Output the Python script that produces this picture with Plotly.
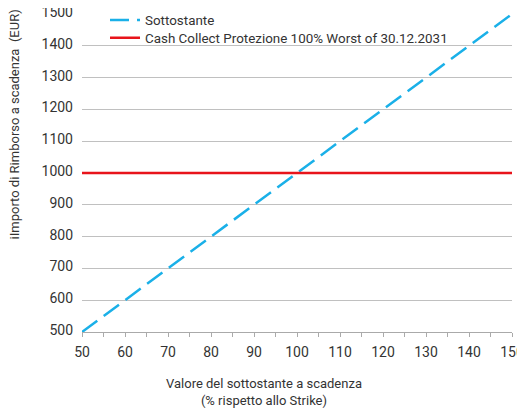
import plotly.graph_objects as go

x_vals = [50, 55, 60, 65, 70, 75, 80, 85, 90, 95, 100, 105, 110, 115, 120, 125, 130, 135, 140, 145, 150]
sottostante = [500, 550, 600, 650, 700, 750, 800, 850, 900, 950, 1000, 1050, 1100, 1150, 1200, 1250, 1300, 1350, 1400, 1450, 1500]
cash_collect = [1000] * 21
x_ticks = [50, 60, 70, 80, 90, 100, 110, 120, 130, 140, 150]
x_minor = [55, 65, 75, 85, 95, 105, 115, 125, 135, 145]

font = "Roboto, sans-serif"
txt = "#333333"

fig = go.Figure()
fig.add_trace(go.Scatter(x=x_vals, y=sottostante, mode="lines", name="Sottostante",
                         legend="legend",
                         line=dict(color="#1AB0E8", width=2.5, dash="19px,8px")))
fig.add_trace(go.Scatter(x=x_vals, y=cash_collect, mode="lines",
                         name="Cash Collect Protezione 100% Worst of 30.12.2031",
                         legend="legend2",
                         line=dict(color="#E8141B", width=2.5)))

leg_common = dict(xanchor="left", yanchor="top", bgcolor="rgba(0,0,0,0)",
                  font=dict(size=13.4, color=txt), itemwidth=30)

# page body has an 8px margin; figure sized so it fills the 525x408 window
fig.update_layout(
    width=517, height=400,
    margin=dict(l=74, r=13, t=6, b=76, autoexpand=False),
    paper_bgcolor="white", plot_bgcolor="white",
    font=dict(family=font, size=13, color=txt),
    showlegend=True,
    legend=dict(x=0.0535, y=1.029, **leg_common),
    legend2=dict(x=0.0535, y=0.9733, **leg_common),
    xaxis=dict(range=[50, 150], tickvals=x_ticks,
               showgrid=False, showline=True, linecolor="#aaaaaa", linewidth=1,
               ticks="outside", ticklen=4, tickcolor="#aaaaaa", ticklabelstandoff=3,
               ticklabeloverflow="allow",
               minor=dict(tickvals=x_minor, ticks="outside", ticklen=4, tickcolor="#aaaaaa"),
               zeroline=False, fixedrange=True, automargin=False,
               tickfont=dict(size=14, color=txt)),
    yaxis=dict(range=[500, 1500], dtick=100, showgrid=True, gridcolor="#c0c0c0", gridwidth=1,
               zeroline=False, showline=False, ticks="", ticklabelstandoff=8,
               ticklabelshift=-2, ticklabeloverflow="allow",
               fixedrange=True, automargin=False,
               tickfont=dict(size=14, color=txt)),
    annotations=[
        dict(text="Valore del sottostante a scadenza<br>(% rispetto allo Strike)",
             xref="paper", yref="paper", x=0.424, y=-0.1325, xanchor="center", yanchor="top",
             showarrow=False, font=dict(size=13, color=txt), align="center"),
        dict(text="iImporto di Rimborso a scadenza  (EUR)",
             xref="paper", yref="paper", x=-0.156, y=0.6525, xanchor="center", yanchor="middle",
             textangle=-90, showarrow=False, font=dict(size=13, color=txt)),
    ],
)

fig.write_html("out.html")
